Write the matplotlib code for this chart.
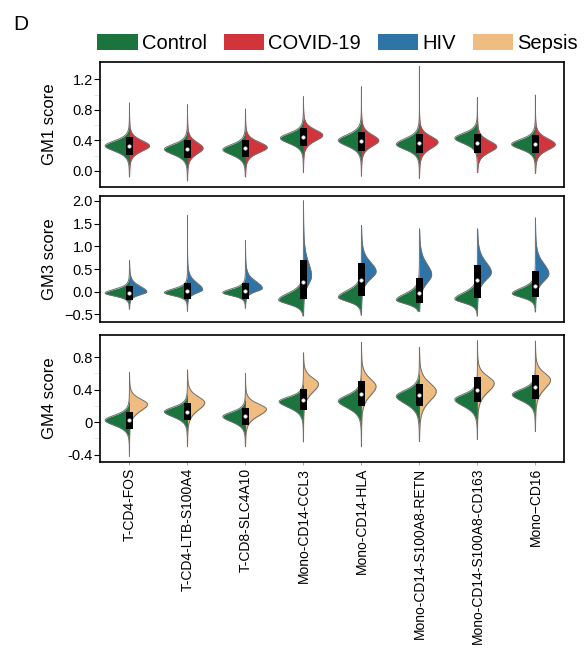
"""Split violins of GM1 / GM3 / GM4 module scores, Control vs disease, per cell type."""

import matplotlib.pyplot as plt
import numpy as np
from matplotlib.patches import Patch, Rectangle

plt.rcParams['font.family'] = ['Liberation Sans', 'DejaVu Sans']

CELL_TYPES = [
    "T-CD4-FOS", "T-CD4-LTB-S100A4", "T-CD8-SLC4A10", "Mono-CD14-CCL3",
    "Mono-CD14-HLA", "Mono-CD14-S100A8-RETN", "Mono-CD14-S100A8-CD163", "Mono\u2212CD16",
]
GROUPS = ["Control", "COVID-19", "HIV", "Sepsis"]
GROUP_COLORS = ["#1b743d", "#d1343a", "#2e74a6", "#efbd82"]

# ---- GM1 score: Control (left half) vs COVID-19 (right half)
GM1_CTRL_PEAK = [0.33, 0.285, 0.28, 0.43, 0.40, 0.35, 0.43, 0.35]
GM1_CTRL_SD_LO = [0.075, 0.075, 0.075, 0.075, 0.08, 0.075, 0.075, 0.07]
GM1_CTRL_SD_HI = [0.07, 0.07, 0.07, 0.07, 0.08, 0.08, 0.07, 0.07]
GM1_CTRL_DENS = [1.0, 0.95, 0.93, 0.95, 0.95, 0.95, 0.93, 0.98]
GM1_DIS_PEAK = [0.33, 0.30, 0.31, 0.47, 0.40, 0.38, 0.32, 0.35]
GM1_DIS_SD_LO = [0.075, 0.08, 0.075, 0.08, 0.08, 0.09, 0.08, 0.08]
GM1_DIS_SD_HI = [0.075, 0.08, 0.075, 0.075, 0.08, 0.08, 0.08, 0.08]
GM1_DIS_DENS = [0.82, 0.64, 0.89, 0.79, 0.71, 0.76, 0.79, 0.81]
GM1_MIN = [-0.075, -0.127, -0.075, -0.02, -0.065, -0.096, -0.02, -0.03]
GM1_MAX = [0.886, 0.864, 0.807, 0.97, 1.10, 1.365, 0.96, 0.99]
GM1_Q1 = [0.21, 0.166, 0.187, 0.33, 0.266, 0.23, 0.24, 0.23]
GM1_MED = [0.327, 0.284, 0.297, 0.45, 0.397, 0.36, 0.36, 0.35]
GM1_Q3 = [0.44, 0.405, 0.405, 0.56, 0.514, 0.49, 0.485, 0.47]

# ---- GM3 score: Control vs HIV
GM3_CTRL_PEAK = [-0.03, -0.02, -0.02, -0.18, -0.12, -0.18, -0.16, -0.04]
GM3_CTRL_SD_LO = [0.07, 0.07, 0.07, 0.10, 0.10, 0.09, 0.09, 0.09]
GM3_CTRL_SD_HI = [0.09, 0.09, 0.09, 0.16, 0.16, 0.15, 0.15, 0.13]
GM3_CTRL_DENS = [1.0, 0.95, 0.93, 1.02, 0.95, 0.95, 0.93, 0.95]
GM3_DIS_PEAK = [0.0, 0.05, 0.08, 0.35, 0.45, 0.38, 0.43, 0.40]
GM3_DIS_SD_LO = [0.07, 0.08, 0.08, 0.20, 0.18, 0.20, 0.18, 0.18]
GM3_DIS_SD_HI = [0.13, 0.16, 0.16, 0.32, 0.22, 0.25, 0.24, 0.24]
GM3_DIS_DENS = [0.71, 0.62, 0.69, 0.33, 0.60, 0.50, 0.57, 0.55]
GM3_MIN = [-0.38, -0.43, -0.36, -0.53, -0.51, -0.43, -0.53, -0.44]
GM3_MAX = [0.684, 1.68, 1.13, 2.0, 1.46, 1.38, 1.38, 1.62]
GM3_Q1 = [-0.18, -0.16, -0.16, -0.16, -0.10, -0.25, -0.14, -0.12]
GM3_MED = [-0.03, 0.01, 0.01, 0.21, 0.265, -0.02, 0.265, 0.125]
GM3_Q3 = [0.13, 0.185, 0.185, 0.70, 0.63, 0.30, 0.60, 0.46]

# ---- GM4 score: Control vs Sepsis
GM4_CTRL_PEAK = [0.025, 0.13, 0.07, 0.255, 0.26, 0.32, 0.28, 0.34]
GM4_CTRL_SD_LO = [0.07, 0.07, 0.07, 0.08, 0.09, 0.10, 0.09, 0.08]
GM4_CTRL_SD_HI = [0.065, 0.06, 0.06, 0.06, 0.08, 0.08, 0.07, 0.07]
GM4_CTRL_DENS = [1.0, 0.95, 0.93, 1.0, 0.95, 0.95, 0.93, 0.95]
GM4_DIS_PEAK = [0.22, 0.24, 0.16, 0.47, 0.44, 0.38, 0.48, 0.52]
GM4_DIS_SD_LO = [0.09, 0.10, 0.09, 0.11, 0.12, 0.13, 0.12, 0.12]
GM4_DIS_SD_HI = [0.07, 0.08, 0.07, 0.08, 0.10, 0.11, 0.09, 0.09]
GM4_DIS_DENS = [0.74, 0.71, 0.86, 0.62, 0.60, 0.69, 0.69, 0.62]
GM4_MIN = [-0.42, -0.30, -0.30, -0.24, -0.30, -0.235, -0.21, -0.115]
GM4_MAX = [0.61, 0.64, 0.60, 0.85, 0.98, 0.92, 1.0, 0.995]
GM4_Q1 = [-0.083, 0.025, -0.03, 0.15, 0.205, 0.197, 0.25, 0.284]
GM4_MED = [0.025, 0.13, 0.074, 0.27, 0.35, 0.33, 0.40, 0.43]
GM4_Q3 = [0.123, 0.238, 0.177, 0.41, 0.506, 0.465, 0.56, 0.585]

HALF_WIDTH = 0.42
BOX_WIDTH = 0.13
EDGE = "#6e6e6e"
NU = 5.0  # tail heaviness of the half-violin outline


def half_profile(peak, sd_lo, sd_hi, dens, lo, hi):
    y = np.linspace(lo, hi, 400)
    z = np.where(y < peak, (y - peak) / sd_lo, (y - peak) / sd_hi)
    w = dens * (1.0 + z ** 2 / NU) ** (-(NU + 1) / 2)
    return y, w * HALF_WIDTH


def draw_panel(ax, ctrl, dis, mins, maxs, q1, med, q3, dis_color):
    for i in range(len(CELL_TYPES)):
        for params, color, side in ((ctrl, GROUP_COLORS[0], -1), (dis, dis_color, 1)):
            y, w = half_profile(params[0][i], params[1][i], params[2][i], params[3][i], mins[i], maxs[i])
            ax.fill_betweenx(y, i, i + side * w, color=color, lw=0, zorder=2)
            ax.plot(i + side * w, y, color=EDGE, lw=0.7, zorder=3)
        ax.add_patch(Rectangle((i - BOX_WIDTH / 2, q1[i]), BOX_WIDTH, q3[i] - q1[i],
                               color="black", lw=0, zorder=4))
        ax.plot(i, med[i], "o", ms=2.6, color="white", mec="#bbbbbb", mew=0.3, zorder=5)
    ax.set_xlim(-0.5, len(CELL_TYPES) - 0.5)
    for s in ax.spines.values():
        s.set_linewidth(1.2)
    ax.tick_params(axis="y", length=4, width=0.8, pad=1.5, labelsize=10.5)
    ax.tick_params(axis="y", which="minor", length=4, width=0.6, color="#e4e4e4")
    ax.yaxis.set_label_coords(-0.094, 0.5)


fig = plt.figure(figsize=(5.88, 6.52), dpi=100)
ax1 = fig.add_axes([0.1709, 0.7137, 0.789, 0.1917])
ax2 = fig.add_axes([0.1709, 0.5066, 0.789, 0.1928])
ax3 = fig.add_axes([0.1709, 0.2919, 0.789, 0.1939])

draw_panel(ax1, (GM1_CTRL_PEAK, GM1_CTRL_SD_LO, GM1_CTRL_SD_HI, GM1_CTRL_DENS),
           (GM1_DIS_PEAK, GM1_DIS_SD_LO, GM1_DIS_SD_HI, GM1_DIS_DENS),
           GM1_MIN, GM1_MAX, GM1_Q1, GM1_MED, GM1_Q3, GROUP_COLORS[1])
draw_panel(ax2, (GM3_CTRL_PEAK, GM3_CTRL_SD_LO, GM3_CTRL_SD_HI, GM3_CTRL_DENS),
           (GM3_DIS_PEAK, GM3_DIS_SD_LO, GM3_DIS_SD_HI, GM3_DIS_DENS),
           GM3_MIN, GM3_MAX, GM3_Q1, GM3_MED, GM3_Q3, GROUP_COLORS[2])
draw_panel(ax3, (GM4_CTRL_PEAK, GM4_CTRL_SD_LO, GM4_CTRL_SD_HI, GM4_CTRL_DENS),
           (GM4_DIS_PEAK, GM4_DIS_SD_LO, GM4_DIS_SD_HI, GM4_DIS_DENS),
           GM4_MIN, GM4_MAX, GM4_Q1, GM4_MED, GM4_Q3, GROUP_COLORS[3])

ax1.set_ylim(-0.205, 1.43)
ax1.set_yticks([0.0, 0.4, 0.8, 1.2], ["0.0", "0.4", "0.8", "1.2"])
ax1.set_yticks([0.2, 0.6, 1.0], minor=True)
ax1.set_ylabel("GM1 score", fontsize=12)

ax2.set_ylim(-0.66, 2.11)
ax2.set_yticks([-0.5, 0.0, 0.5, 1.0, 1.5, 2.0], ["\u22120.5", "0.0", "0.5", "1.0", "1.5", "2.0"])
ax2.set_ylabel("GM3 score", fontsize=12)

ax3.set_ylim(-0.486, 1.07)
ax3.set_yticks([-0.4, 0.0, 0.4, 0.8], ["-0.4", "0", "0.4", "0.8"])
ax3.set_yticks([-0.2, 0.2, 0.6], minor=True)
ax3.set_ylabel("GM4 score", fontsize=12)

for ax in (ax1, ax2):
    ax.set_xticks([])
ax3.set_xticks(range(len(CELL_TYPES)), CELL_TYPES, rotation=90, fontsize=10)
ax3.tick_params(axis="x", length=2.5, width=0.6, color="#999999", pad=2)

handles = [Patch(facecolor=c, edgecolor="none", label=g) for g, c in zip(GROUPS, GROUP_COLORS)]
fig.legend(handles=handles, loc="center", bbox_to_anchor=(0.574, 0.9334), ncol=4, frameon=False,
           fontsize=14.5, handlelength=2.0, handleheight=0.83, handletextpad=0.2,
           columnspacing=0.85, borderpad=0, borderaxespad=0)

fig.text(13 / 588, 1 - 30 / 652, "D", fontsize=15, va="baseline", ha="left")

fig.savefig("out.png", dpi=100)
